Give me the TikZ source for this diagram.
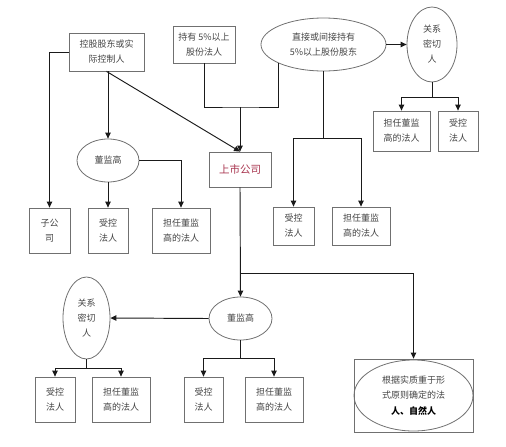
\documentclass[tikz,border=0pt]{standalone}
\usepackage{fontspec}
\newfontfamily\cjk{Noto Sans CJK SC}
\usetikzlibrary{arrows.meta,shapes.geometric}
\definecolor{txt}{HTML}{444444}
\definecolor{edge}{HTML}{707070}
\definecolor{ln}{HTML}{1A1A1A}
\definecolor{red1}{HTML}{A8344E}
\tikzset{
  base/.style={draw=edge, line width=0.8pt, inner sep=0pt, align=center, text=txt,
    font=\cjk\fontsize{9}{15}\selectfont},
  box/.style={base, rectangle},
  oval/.style={base, ellipse},
  line/.style={draw=ln, line width=0.95pt},
  arr/.style={line, -{Triangle[length=6pt,width=5.5pt]}},
}
\begin{document}
\begin{tikzpicture}[x=1pt,y=-1pt]
\useasboundingbox (0,0) rectangle (506,447);
% top-left cluster
\node[box, minimum width=75pt, minimum height=38pt] (kg) at (106.5,52) {控股股东或实\\际控制人};
\node[box, minimum width=62pt, minimum height=37pt] (cy) at (204,44.5) {持有 5\%以上\\股份法人};
\node[box, minimum width=62pt, minimum height=35pt, text=red1, font=\cjk\fontsize{10.5}{15}\selectfont] (ss) at (240,169.5) {上市公司};
\node[oval, minimum width=62pt, minimum height=43pt] (djg1) at (108,160.5) {董监高};
\node[box, minimum width=41pt, minimum height=45pt] (zgs) at (49.5,230.5) {子公\\司};
\node[box, minimum width=40pt, minimum height=45pt] (sk1) at (108,230.5) {受控\\法人};
\node[box, minimum width=58pt, minimum height=45pt] (dr1) at (181,230.5) {担任董监\\高的法人};
% top-right cluster
\node[oval, minimum width=125pt, minimum height=53pt] (zj) at (323.5,44.5) {直接或间接持有\\5\%以上股份股东};
\node[oval, minimum width=50pt, minimum height=75pt] (gx1) at (432,44.5) {关系\\密切\\人};
\node[box, minimum width=57pt, minimum height=40pt] (dr2) at (401.5,131) {担任董监\\高的法人};
\node[box, minimum width=40pt, minimum height=40pt] (sk2) at (458,131) {受控\\法人};
\node[box, minimum width=41pt, minimum height=38pt] (sk3) at (293.5,226) {受控\\法人};
\node[box, minimum width=58pt, minimum height=38pt] (dr3) at (361,226) {担任董监\\高的法人};
% bottom cluster
\node[oval, minimum width=63pt, minimum height=43pt] (djg2) at (240.5,318.5) {董监高};
\node[oval, minimum width=47pt, minimum height=82pt] (gx2) at (86.5,318) {关系\\密切\\人};
\node[box, minimum width=40pt, minimum height=45pt] (sk4) at (55,399.5) {受控\\法人};
\node[box, minimum width=58pt, minimum height=45pt] (dr4) at (121,399.5) {担任董监\\高的法人};
\node[box, minimum width=39pt, minimum height=45pt] (sk5) at (203.5,399.5) {受控\\法人};
\node[box, minimum width=58pt, minimum height=45pt] (dr5) at (274,399.5) {担任董监\\高的法人};
\node[box, minimum width=119pt, minimum height=73pt] (gj) at (413.5,395.5) {};
\node[oval, minimum width=119pt, minimum height=71pt, font=\cjk\fontsize{9}{15.5}\selectfont] (gje) at (413.5,395.5) {根据实质重于形\\式原则确定的法\\{\color{black}\bfseries 人、自然人}};
% connectors
\coordinate (m1) at (240,107);
\coordinate (m3) at (240,273);
\draw[arr] (kg.west) -| (zgs.north);
\draw[arr] (kg.south -| djg1.north) -- (djg1.north);
\draw[arr] (kg.south) -- (ss.north);
\draw[line] (cy.south) |- (m1) -| (zj.203);
\draw[arr] (m1) -- (ss.north);
\draw[arr] (djg1.south) -- (sk1.north);
\draw[arr] (djg1.east) -| (dr1.north);
\draw[arr] (zj.east) -- (gx1.west);
\draw[arr] (gx1.south) -- ++(0,15) -| (dr2.north);
\draw[arr] (gx1.south) -- ++(0,15) -| (sk2.north);
\draw[arr] (zj.south) -- ++(0,67) -| (sk3.north);
\draw[arr] (zj.south) -- ++(0,67) -| (dr3.north);
\draw[arr] (ss.south) -- (djg2.north);
\draw[arr] (m3) -| (gj.north);
\draw[arr] (djg2.west) -- (gx2.east);
\draw[arr] (gx2.south) -- ++(0,9) -| (sk4.north);
\draw[arr] (gx2.south) -- ++(0,9) -| (dr4.north);
\draw[arr] (djg2.south) -- ++(0,18) -| (sk5.north);
\draw[arr] (djg2.south) -- ++(0,18) -| (dr5.north);
\end{tikzpicture}
\end{document}
